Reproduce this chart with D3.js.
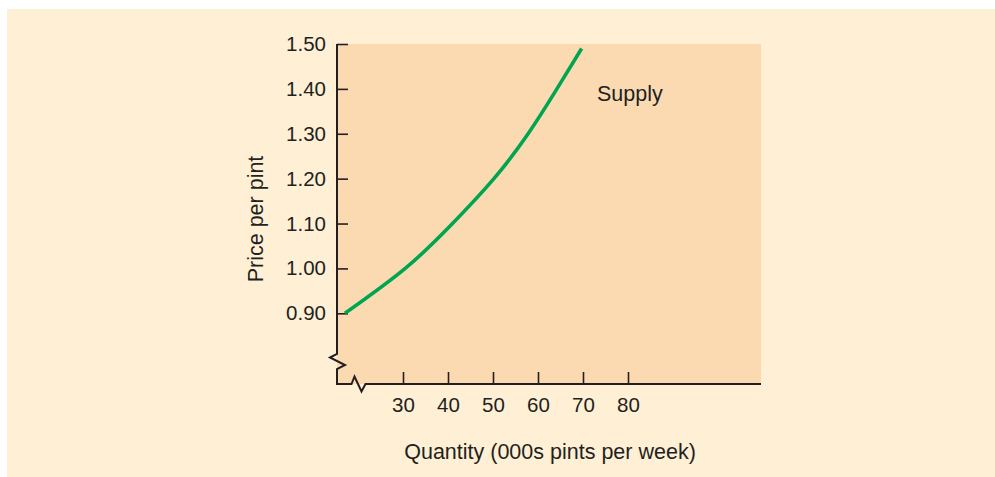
<!DOCTYPE html>
<html>
<head>
<meta charset="utf-8">
<script src="https://cdn.jsdelivr.net/npm/d3@7"></script>
<style>
  html, body { margin: 0; padding: 0; background: #ffffff; }
  svg { display: block; }
  text { font-family: "Liberation Sans", Arial, Helvetica, sans-serif; fill: #231f20; }
</style>
</head>
<body>
<svg id="chart" width="995" height="477"></svg>
<script>
// ---- data ----
const priceTicks = [0.90, 1.00, 1.10, 1.20, 1.30, 1.40, 1.50];
const quantityTicks = [30, 40, 50, 60, 70, 80];
const supplyPrice = [0.90, 1.00, 1.10, 1.20, 1.30, 1.40, 1.49];
const supplyQuantity = [17.1, 30.5, 41.0, 50.2, 57.8, 64.2, 69.7];
const curveLabel = "Supply";
const xTitle = "Quantity (000s pints per week)";
const yTitle = "Price per pint";

(function () {
// ---- layout ----
const W = 995, H = 477;
const svg = d3.select("#chart");
const ink = "#231f20";

const x = d3.scaleLinear().domain([20, 80]).range([358, 628]);
const y = d3.scaleLinear().domain([0.90, 1.50]).range([313.3, 44]);
const pLeft = 337, pRight = 761, pTop = 44, pBottom = 384;

// outer panel
svg.append("rect").attr("x", 7).attr("y", 9).attr("width", W - 7).attr("height", H - 9)
  .attr("fill", "#feefd5");

// plot area
svg.append("rect").attr("x", pLeft).attr("y", pTop)
  .attr("width", pRight - pLeft).attr("height", pBottom - pTop)
  .attr("fill", "#fcdab1");

// y axis ticks & labels
const yAxis = d3.axisLeft(y).tickValues(priceTicks).tickFormat(d3.format(".2f"))
  .tickSizeInner(-11).tickSizeOuter(0).tickPadding(11);
const gy = svg.append("g").attr("transform", `translate(${pLeft},0)`).call(yAxis);
gy.select(".domain").remove();
gy.selectAll(".tick line").attr("stroke", ink).attr("stroke-width", 1.6);
gy.selectAll(".tick text").attr("font-size", 20.5).attr("fill", ink)
  .style("font-family", '"Liberation Sans", Arial, sans-serif');

// x axis ticks & labels
const xAxis = d3.axisBottom(x).tickValues(quantityTicks).tickFormat(d3.format("d"))
  .tickSizeInner(-12).tickSizeOuter(0).tickPadding(13);
const gx = svg.append("g").attr("transform", `translate(0,${pBottom})`).call(xAxis);
gx.select(".domain").remove();
gx.selectAll(".tick line").attr("stroke", ink).attr("stroke-width", 1.6);
gx.selectAll(".tick text").attr("font-size", 20.5).attr("fill", ink)
  .style("font-family", '"Liberation Sans", Arial, sans-serif');

// axis lines with break marks
const axisPath = d3.path();
axisPath.moveTo(pLeft, pTop);
axisPath.lineTo(pLeft, 354);
axisPath.lineTo(pLeft - 7, 357.5);
axisPath.lineTo(pLeft + 8, 365);
axisPath.lineTo(pLeft, 369);
axisPath.lineTo(pLeft, pBottom);
axisPath.lineTo(351.5, pBottom);
axisPath.lineTo(354.5, 376.5);
axisPath.lineTo(361.5, 391.5);
axisPath.lineTo(365.5, pBottom);
axisPath.lineTo(pRight, pBottom);
svg.append("path").attr("d", axisPath.toString())
  .attr("fill", "none").attr("stroke", ink).attr("stroke-width", 2)
  .attr("stroke-linejoin", "miter");

// supply curve
const pts = supplyPrice.map((p, i) => [supplyQuantity[i], p]);
const line = d3.line().x(d => x(d[0])).y(d => y(d[1])).curve(d3.curveNatural);
svg.append("path").datum(pts).attr("d", line)
  .attr("fill", "none").attr("stroke", "#00a54f").attr("stroke-width", 3.6);

// labels
svg.append("text").attr("x", 597).attr("y", 101).attr("font-size", 21.5).text(curveLabel);
svg.append("text").attr("x", 550).attr("y", 459).attr("text-anchor", "middle")
  .attr("font-size", 21.5).text(xTitle);
svg.append("text").attr("transform", "translate(263,219) rotate(-90)")
  .attr("text-anchor", "middle").attr("font-size", 21.5).text(yTitle);
})();
</script>
</body>
</html>
